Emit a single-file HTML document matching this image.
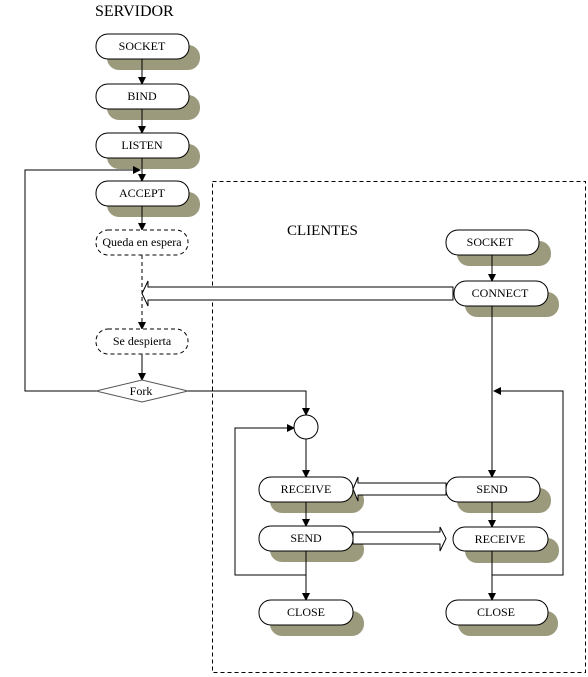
<!DOCTYPE html>
<html><head><style>
html,body{margin:0;padding:0;background:#fff;}
svg{display:block;}
text{font-family:"Liberation Serif",serif;font-size:12px;fill:#000;}
</style></head><body>
<svg width="588" height="677" viewBox="0 0 588 677" xmlns="http://www.w3.org/2000/svg">
<defs>
<marker id="ar" markerWidth="8" markerHeight="8" refX="7" refY="4" orient="auto" markerUnits="userSpaceOnUse"><path d="M0,0 L8,4 L0,8 z" fill="#000"/></marker>
</defs>
<text x="95" y="16" style="font-size:16px">SERVIDOR</text>
<text x="287" y="235" style="font-size:15px">CLIENTES</text>
<rect x="212.5" y="181.5" width="373" height="491" fill="none" stroke="#000" stroke-dasharray="4,3"/>

<g fill="#9c9a7c">
<rect x="107" y="45" width="93" height="25" rx="12"/>
<rect x="107" y="95" width="93" height="25" rx="12"/>
<rect x="107" y="144" width="93" height="25" rx="12"/>
<rect x="107" y="192" width="93" height="25" rx="12"/>
<rect x="457" y="241" width="94" height="25" rx="12"/>
<rect x="465" y="292" width="94" height="25" rx="12"/>
<rect x="270" y="488" width="94" height="25" rx="12"/>
<rect x="270" y="537" width="94" height="25" rx="12"/>
<rect x="270" y="611" width="94" height="25" rx="12"/>
<rect x="457" y="488" width="94" height="25" rx="12"/>
<rect x="465" y="538" width="94" height="25" rx="12"/>
<rect x="458" y="611" width="100" height="25" rx="12"/>
</g>

<g stroke="#000" stroke-width="1" fill="none">
<line x1="142" y1="59" x2="142" y2="84" marker-end="url(#ar)"/>
<line x1="142" y1="109" x2="142" y2="133" marker-end="url(#ar)"/>
<line x1="142" y1="158" x2="142" y2="181" marker-end="url(#ar)"/>
<line x1="142" y1="206" x2="142" y2="230" marker-end="url(#ar)"/>
<line x1="142" y1="255" x2="142" y2="329" stroke-dasharray="4,3" marker-end="url(#ar)"/>
<line x1="142" y1="354" x2="142" y2="380" marker-end="url(#ar)"/>
<polyline points="96,391 25,391 25,170 140,170" marker-end="url(#ar)"/>
<polyline points="188,391 306,391 306,415" marker-end="url(#ar)"/>
<line x1="306" y1="439" x2="306" y2="477" marker-end="url(#ar)"/>
<line x1="306" y1="502" x2="306" y2="526" marker-end="url(#ar)"/>
<line x1="306" y1="551" x2="306" y2="600" marker-end="url(#ar)"/>
<polyline points="306,575 235,575 235,428 294,428" marker-end="url(#ar)"/>
<line x1="492" y1="255" x2="492" y2="281" marker-end="url(#ar)"/>
<line x1="492" y1="306" x2="492" y2="477" marker-end="url(#ar)"/>
<line x1="492" y1="502" x2="492" y2="527" marker-end="url(#ar)"/>
<line x1="492" y1="551" x2="492" y2="600" marker-end="url(#ar)"/>
<polyline points="492,575 563,575 563,391 494,391" marker-end="url(#ar)"/>
</g>

<g stroke="#000" fill="#fff">
<path d="M453,287 L148,287 L148,281 L142,293.5 L148,306 L148,300 L453,300 z"/>
<path d="M446,483 L358,483 L358,477 L353,489 L358,501 L358,495 L446,495 z"/>
<path d="M353,532 L440,532 L440,527 L446,538.5 L440,551 L440,544 L353,544 z"/>
</g>

<g stroke="#000" fill="#fff">
<rect x="96" y="34" width="93" height="25" rx="12"/>
<rect x="96" y="84" width="93" height="25" rx="12"/>
<rect x="96" y="133" width="93" height="25" rx="12"/>
<rect x="96" y="181" width="93" height="25" rx="12"/>
<rect x="96" y="230" width="92" height="25" rx="12" stroke-dasharray="4,3"/>
<rect x="96" y="329" width="92" height="25" rx="12" stroke-dasharray="4,3"/>
<polygon points="96,391 142,380 188,391 142,402" stroke="#555"/>
<circle cx="306" cy="427" r="12"/>
<rect x="446" y="230" width="93" height="25" rx="12"/>
<rect x="454" y="281" width="94" height="25" rx="12"/>
<rect x="259" y="477" width="94" height="25" rx="12"/>
<rect x="259" y="526" width="94" height="25" rx="12"/>
<rect x="259" y="600" width="94" height="25" rx="12"/>
<rect x="446" y="477" width="94" height="25" rx="12"/>
<rect x="453" y="527" width="95" height="24" rx="12"/>
<rect x="446" y="600" width="102" height="25" rx="12"/>
</g>

<g text-anchor="middle">
<text x="142" y="50">SOCKET</text>
<text x="142" y="100">BIND</text>
<text x="142" y="149">LISTEN</text>
<text x="142" y="197">ACCEPT</text>
<text x="142" y="246">Queda en espera</text>
<text x="142" y="345">Se despierta</text>
<text x="141" y="395">Fork</text>
<text x="490" y="246">SOCKET</text>
<text x="500" y="297">CONNECT</text>
<text x="306" y="493">RECEIVE</text>
<text x="306" y="542">SEND</text>
<text x="306" y="616">CLOSE</text>
<text x="492" y="493">SEND</text>
<text x="500" y="543">RECEIVE</text>
<text x="496" y="616">CLOSE</text>
</g>
</svg>
</body></html>
